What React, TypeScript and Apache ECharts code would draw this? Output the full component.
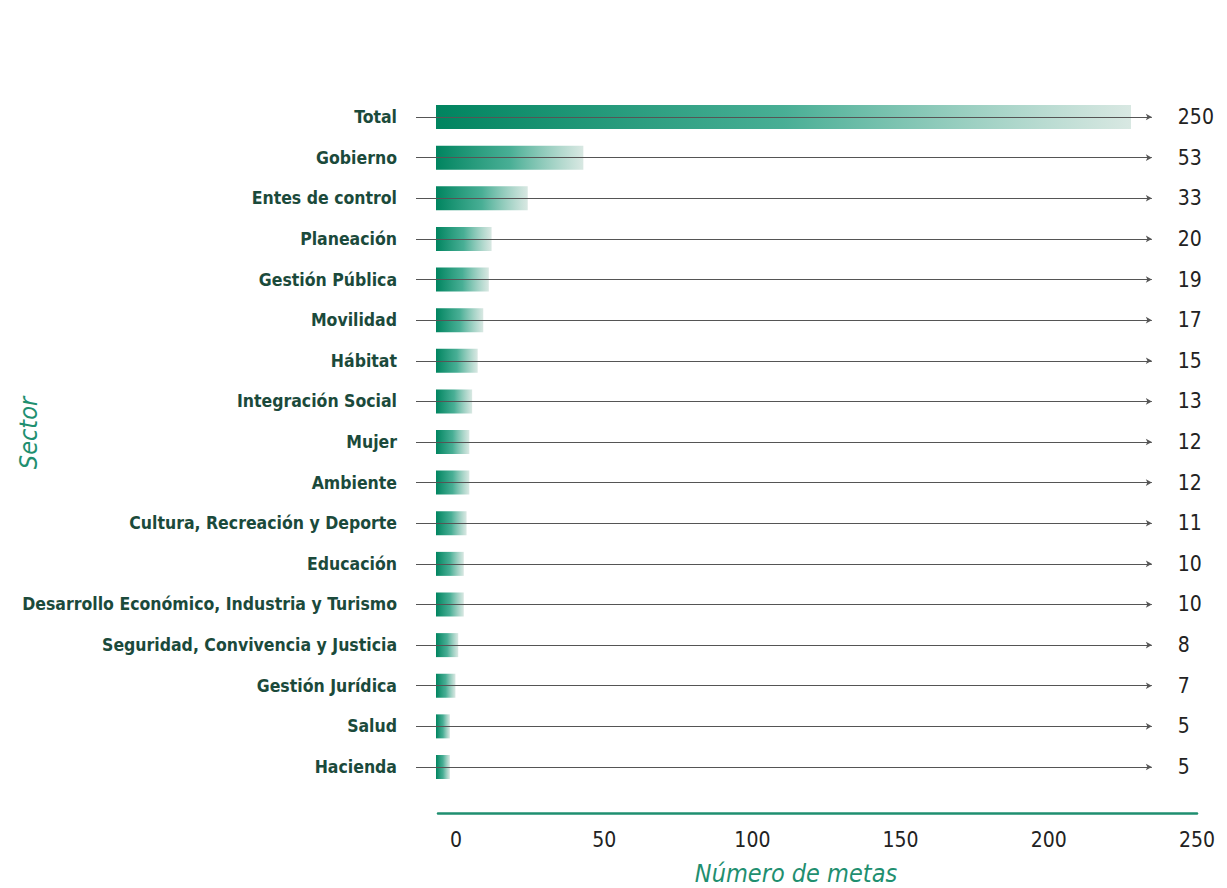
import React, { useEffect, useRef } from "react";
import * as echarts from "echarts";

const categories = [
  "Total",
  "Gobierno",
  "Entes de control",
  "Planeación",
  "Gestión Pública",
  "Movilidad",
  "Hábitat",
  "Integración Social",
  "Mujer",
  "Ambiente",
  "Cultura, Recreación y Deporte",
  "Educación",
  "Desarrollo Económico, Industria y Turismo",
  "Seguridad, Convivencia y Justicia",
  "Gestión Jurídica",
  "Salud",
  "Hacienda",
];
const values = [250, 53, 33, 20, 19, 17, 15, 13, 12, 12, 11, 10, 10, 8, 7, 5, 5];
const tickMin = 0;
const tickMax = 250;
const tickStep = 50;
const xTitle = "Número de metas";
const yTitle = "Sector";

const FONT = "'DejaVu Sans Condensed', 'DejaVu Sans', sans-serif";

export default function App() {
  const ref = useRef<HTMLDivElement>(null);
  useEffect(() => {
    document.body.style.margin = "0";
    if (!ref.current) return;
    const chart = echarts.init(ref.current, undefined, { renderer: "svg" });
    const top = 96.7;
    const h = 690.6;
    const pxPerUnit = 2.78;
    const barLeft = 416;
    const axisMin0 = -20 / pxPerUnit;
    const axisMax0 = axisMin0 + 781 / pxPerUnit;
    const arrowStart = axisMin0;
    const arrowEnd = 257.5;
    const option: any = {
      animation: false,
      backgroundColor: "#ffffff",
      grid: [
        { left: barLeft, top, width: 781, height: h, containLabel: false, outerBoundsMode: "none" },
        { left: 456, top, width: 741, height: 716.3, containLabel: false, outerBoundsMode: "none" },
        { left: 438, top, width: 759, height: 716.3, containLabel: false, outerBoundsMode: "none" },
      ],
      xAxis: [
        {
          type: "value",
          gridIndex: 0,
          min: axisMin0,
          max: axisMax0,
          axisLine: { show: false },
          axisTick: { show: false },
          axisLabel: { show: false },
          splitLine: { show: false },
        },
        {
          type: "value",
          gridIndex: 1,
          min: tickMin,
          max: tickMax,
          interval: tickStep,
          axisLine: { show: false },
          axisTick: { show: false },
          splitLine: { show: false },
          axisLabel: {
            margin: 16,
            color: "#222",
            fontFamily: FONT,
            fontSize: 21,
          },
        },
        {
          type: "value",
          gridIndex: 2,
          min: 0,
          max: 1,
          axisLine: { show: true, onZero: false, lineStyle: { color: "#1f8f70", width: 2.5 } },
          axisTick: { show: false },
          axisLabel: { show: false },
          splitLine: { show: false },
        },
      ],
      yAxis: [
        {
          type: "category",
          gridIndex: 0,
          data: categories,
          inverse: true,
          axisLine: { show: false },
          axisTick: { show: false },
          axisLabel: {
            margin: 19,
            color: "#1b4a3b",
            fontFamily: FONT,
            fontWeight: "bold",
            fontSize: 17.5,
          },
        },
        { type: "value", gridIndex: 1, show: false },
        { type: "value", gridIndex: 2, show: false },
      ],
      series: [
        {
          type: "bar",
          xAxisIndex: 0,
          yAxisIndex: 0,
          barWidth: 24,
          clip: false,
          data: values,
          itemStyle: {
            color: new echarts.graphic.LinearGradient(0, 0, 1, 0, [
              { offset: 0, color: "#00845f" },
              { offset: 0.5, color: "rgba(40,160,130,0.85)" },
              { offset: 1, color: "rgba(200,222,214,0.7)" },
            ]),
          },
          markLine: {
            silent: true,
            symbol: ["none", "arrow"],
            symbolSize: [5, 6],
            z: 5,
            lineStyle: { color: "#555", width: 1, type: "solid" },
            label: {
              show: true,
              position: "end",
              distance: 26,
              formatter: "{c}",
              color: "#222",
              fontFamily: FONT,
              fontSize: 21,
            },
            data: categories.map((c, i) => [
              { coord: [arrowStart, c], value: values[i] },
              { coord: [arrowEnd, c] },
            ]),
          },
        },
        { type: "scatter", xAxisIndex: 1, yAxisIndex: 1, data: [] },
        { type: "scatter", xAxisIndex: 2, yAxisIndex: 2, data: [] },
      ],
      graphic: [
        {
          type: "text",
          x: 796,
          y: 873,
          style: {
            text: xTitle,
            fill: "#1f8f70",
            font: `italic 25px ${FONT}`,
            textAlign: "center",
            textVerticalAlign: "middle",
          },
        },
        {
          type: "text",
          x: 28,
          y: 433,
          rotation: Math.PI / 2,
          style: {
            text: yTitle,
            fill: "#1f8f70",
            font: `italic 25px ${FONT}`,
            textAlign: "center",
            textVerticalAlign: "middle",
          },
        },
      ],
    };
    chart.setOption(option);
    return () => chart.dispose();
  }, []);
  return <div ref={ref} style={{ width: 1227, height: 888 }} />;
}
